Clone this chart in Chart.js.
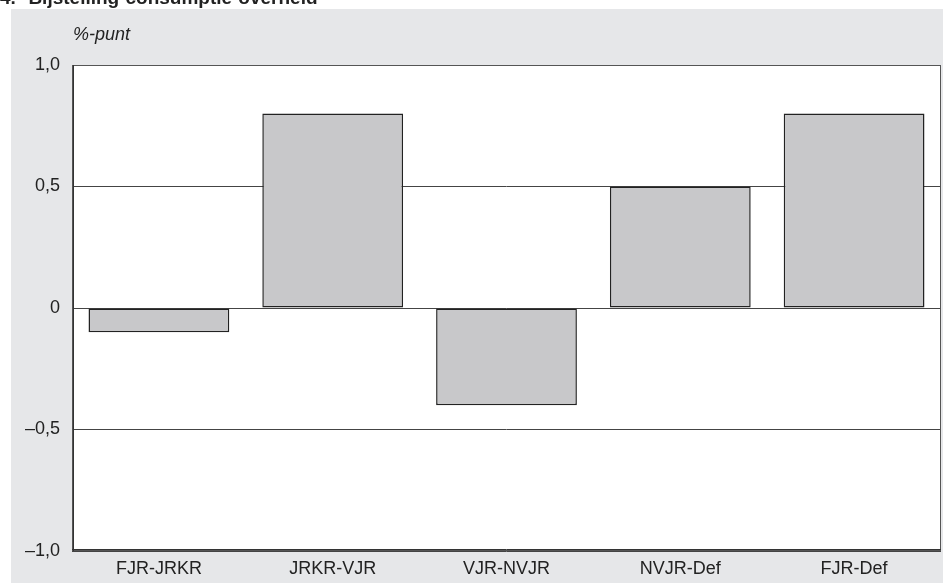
<!DOCTYPE html>
<html>
<head>
<meta charset="utf-8">
<script src="https://cdn.jsdelivr.net/npm/chart.js@4"></script>
<style>
  body { margin: 0; background: #fff; overflow: hidden; }
  #wrap { position: relative; width: 943px; height: 583px; }
  #title { position: absolute; left: 0; top: -12px; font: bold 19px "Liberation Sans", Arial, sans-serif; color: #222; line-height: 19px; white-space: pre; word-spacing: 1px; }
  #unit { position: absolute; left: 73px; top: 24px; font: italic 18px "Liberation Sans", Arial, sans-serif; color: #222; z-index: 2; line-height: 20px; }
  canvas { position: absolute; left: 0; top: 0; }
</style>
</head>
<body>
<div id="wrap">
  <canvas id="chartBijstelling" width="943" height="583"></canvas>
  <div id="title">4.  Bijstelling consumptie overheid</div>
  <div id="unit">%-punt</div>
</div>
<script>
const labels = ["FJR-JRKR", "JRKR-VJR", "VJR-NVJR", "NVJR-Def", "FJR-Def"];
const bijstelling = [-0.1, 0.8, -0.4, 0.5, 0.8];
const yTicks = [-1, -0.5, 0, 0.5, 1];

function fmt(v) {
  if (v === 0) return "0";
  let s = Math.abs(v).toFixed(1).replace(".", ",");
  return (v < 0 ? "\u2013" : "") + s;
}

// grijs vlak + witte plotruimte + kader
const panelPlugin = {
  id: "panel",
  beforeDraw(chart) {
    const c = chart.ctx;
    const a = chart.chartArea;
    c.save();
    c.fillStyle = "#e6e7e9";
    c.fillRect(11, 9, chart.width - 11, chart.height - 9);
    c.fillStyle = "#ffffff";
    c.fillRect(a.left, a.top, a.right - a.left, a.bottom - a.top);
    c.restore();
  },
  afterDraw(chart) {
    const c = chart.ctx;
    const a = chart.chartArea;
    c.save();
    c.strokeStyle = "#555";
    c.lineWidth = 1;
    c.strokeRect(a.left + 0.5, a.top + 0.5, a.right - a.left - 1, a.bottom - a.top - 1);
    c.strokeStyle = "#333";
    c.beginPath();
    c.moveTo(a.left + 1.5, a.top);
    c.lineTo(a.left + 1.5, a.bottom);
    c.moveTo(a.left, a.bottom - 1.5);
    c.lineTo(a.right, a.bottom - 1.5);
    c.stroke();
    c.restore();
  }
};

new Chart(document.getElementById("chartBijstelling"), {
  type: "bar",
  data: {
    labels: labels,
    datasets: [{
      data: bijstelling,
      backgroundColor: "#c8c8ca",
      borderColor: "#222",
      borderWidth: 1.5,
      borderSkipped: false,
      categoryPercentage: 0.81,
      barPercentage: 1
    }]
  },
  options: {
    responsive: false,
    animation: false,
    layout: { padding: { left: 0, top: 65, right: 2, bottom: 0 } },
    plugins: { legend: { display: false }, tooltip: { enabled: false } },
    scales: {
      x: {
        afterFit(s) { s.height = 32; },
        grid: { display: false, drawTicks: false },
        border: { display: false },
        ticks: { padding: 7, color: "#222", font: { family: "'Liberation Sans', Arial", size: 18 } }
      },
      y: {
        min: -1,
        max: 1,
        afterFit(s) { s.width = 72; },
        afterBuildTicks(s) { s.ticks = yTicks.map(v => ({ value: v })); },
        grid: { color: "#444", lineWidth: 1, drawTicks: false },
        border: { display: false },
        ticks: { padding: 12, color: "#222", callback: v => fmt(v), font: { family: "'Liberation Sans', Arial", size: 18 } }
      }
    }
  },
  plugins: [panelPlugin]
});
</script>
</body>
</html>
